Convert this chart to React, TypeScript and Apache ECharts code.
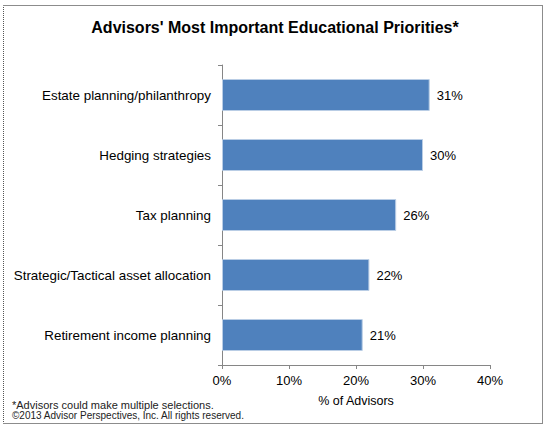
import React, { useEffect, useRef } from 'react';
import * as echarts from 'echarts';

const categories = [
  'Estate planning/philanthropy',
  'Hedging strategies',
  'Tax planning',
  'Strategic/Tactical asset allocation',
  'Retirement income planning',
];
const shares = [31, 30, 26, 22, 21];
const footnotes = [
  '*Advisors could make multiple selections.',
  '\u00a92013 Advisor Perspectives, Inc. All rights reserved.',
];
const footnoteSizes = [11, 10];

const FONT = '"Liberation Sans", Arial, sans-serif';

export default function App() {
  const chartRef = useRef<HTMLDivElement>(null);

  useEffect(() => {
    if (!chartRef.current) return;
    const chart = echarts.init(chartRef.current, undefined, { renderer: 'svg' });

    const option: echarts.EChartsOption = {
      animation: false,
      backgroundColor: '#fff',
      textStyle: { fontFamily: FONT },
      title: {
        text: "Advisors' Most Important Educational Priorities*",
        left: 'center',
        top: 14,
        textStyle: { fontSize: 16, fontWeight: 'bold', color: '#000', fontFamily: FONT },
      },
      grid: { left: 222, top: 65, width: 268, height: 300 },
      xAxis: {
        type: 'value',
        min: 0,
        max: 40,
        interval: 10,
        name: '% of Advisors',
        nameLocation: 'middle',
        nameGap: 29,
        nameTextStyle: { fontSize: 12.5, color: '#000', fontFamily: FONT },
        axisLine: { show: true, lineStyle: { color: '#868686' } },
        axisTick: { show: true, length: 4, lineStyle: { color: '#868686' } },
        splitLine: { show: false },
        axisLabel: {
          formatter: '{value}%',
          margin: 9,
          fontSize: 13,
          color: '#000',
          fontFamily: FONT,
        },
      },
      yAxis: {
        type: 'category',
        data: categories,
        inverse: true,
        axisLine: { show: true, lineStyle: { color: '#868686' } },
        axisTick: { show: true, length: 4, lineStyle: { color: '#868686' } },
        axisLabel: { margin: 11, fontSize: 13.4, color: '#000', fontFamily: FONT },
      },
      series: [
        {
          type: 'bar',
          data: shares,
          barWidth: 32,
          itemStyle: { color: '#4F81BD', borderColor: '#B9CDE5', borderWidth: 1 },
          label: {
            show: true,
            position: 'right',
            distance: 7,
            formatter: '{c}%',
            fontSize: 13,
            color: '#000',
            fontFamily: FONT,
          },
        },
      ],
      graphic: [
        {
          type: 'line',
          shape: { x1: 3.5, y1: 5, x2: 3.5, y2: 424 },
          style: { stroke: '#555', lineWidth: 1, lineDash: [1, 1] },
        },
        {
          type: 'line',
          shape: { x1: 3, y1: 5.5, x2: 542, y2: 5.5 },
          style: { stroke: '#8c8c8c', lineWidth: 1 },
        },
        {
          type: 'line',
          shape: { x1: 542.5, y1: 5, x2: 542.5, y2: 424 },
          style: { stroke: '#8c8c8c', lineWidth: 1 },
        },
        {
          type: 'line',
          shape: { x1: 3, y1: 423.5, x2: 542, y2: 423.5 },
          style: { stroke: '#8c8c8c', lineWidth: 1 },
        },
        ...footnotes.map((t, i) => ({
          type: 'text' as const,
          left: 12,
          top: 399 + i * 11.5,
          style: { text: t, fontSize: footnoteSizes[i], fill: '#222', fontFamily: FONT },
        })),
      ],
    };
    chart.setOption(option);

    return () => {
      chart.dispose();
    };
  }, []);

  return (
    <div
      ref={chartRef}
      style={{ position: 'absolute', left: 0, top: 0, width: '550px', height: '437px' }}
    />
  );
}
